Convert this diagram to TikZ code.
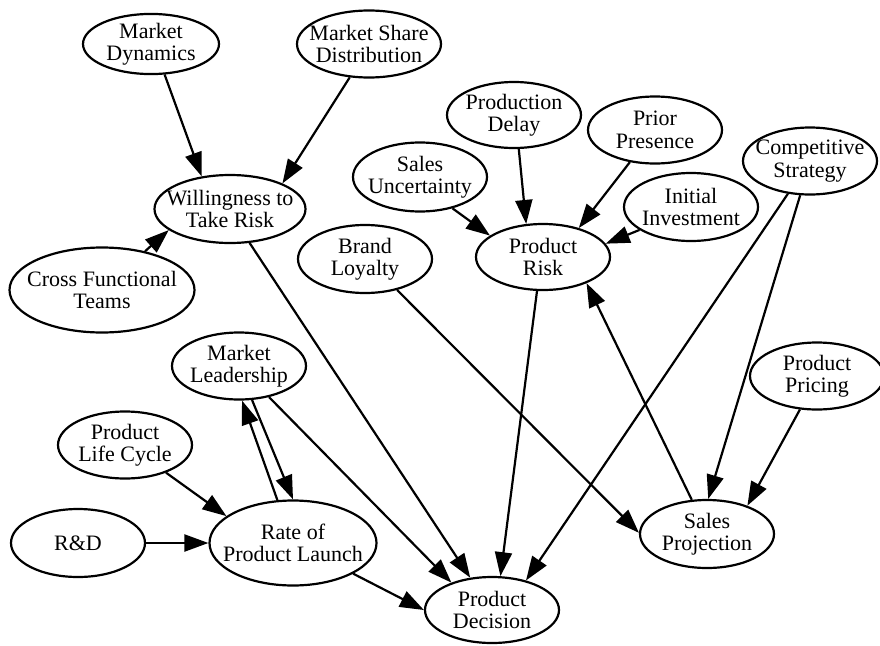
\documentclass[tikz,border=0pt]{standalone}
\usepackage{fontspec}
\setmainfont{Liberation Serif}
\usetikzlibrary{shapes.geometric,arrows.meta}
\newcommand{\lignes}[2]{\makebox[0pt]{#1}\\\makebox[0pt]{#2}}

\begin{document}
\begin{tikzpicture}[%
    x=1pt, y=-1pt,%
    line width=2.2pt,%
    font=\fontsize{22}{22.5}\selectfont,%
    var/.style={ellipse, draw, inner sep=0pt, align=center,%
      minimum width=134pt, minimum height=67pt},%
    dep/.style={-{Triangle[length=24pt,width=17pt]}}%
    ]
  \useasboundingbox (0,0) rectangle (880,645);%

  % Nodes
  \node[var, minimum width=136pt, minimum height=59pt] (MD) at (151,44) {\lignes{Market}{Dynamics}};%
  \node[var, minimum width=144pt] (MSD) at (369,44) {\lignes{Market Share}{Distribution}};%
  \node[var, minimum width=151pt, minimum height=68pt] (WTR) at (230,209) {\lignes{Willingness to}{Take Risk}};%
  \node[var, minimum width=185pt, minimum height=85pt] (CFT) at (102,290) {\lignes{Cross Functional}{Teams}};%
  \node[var, minimum height=69pt] (SU) at (420,177) {\lignes{Sales}{Uncertainty}};%
  \node[var, minimum height=68pt] (BL) at (365,259) {\lignes{Brand}{Loyalty}};%
  \node[var, minimum height=66pt] (PDL) at (514,115) {\lignes{Production}{Delay}};%
  \node[var] (PP) at (655,130) {\lignes{Prior}{Presence}};%
  \node[var] (CS) at (810,161) {\lignes{Competitive}{Strategy}};%
  \node[var, minimum height=68pt] (II) at (691,207) {\lignes{Initial}{Investment}};%
  \node[var, minimum height=66pt] (PR) at (543,257) {\lignes{Product}{Risk}};%
  \node[var] (ML) at (239,366) {\lignes{Market}{Leadership}};%
  \node[var] (PLC) at (125,445) {\lignes{Product}{Life Cycle}};%
  \node[var, minimum height=68pt] (RD) at (78,543) {R\&D};%
  \node[var, minimum width=167pt, minimum height=85pt] (RPL) at (293,543) {\lignes{Rate of}{Product Launch}};%
  \node[var] (PPR) at (817,376) {\lignes{Product}{Pricing}};%
  \node[var, minimum height=68pt] (SP) at (707,534) {\lignes{Sales}{Projection}};%
  \node[var, minimum height=66pt] (DEC) at (492,610) {\lignes{Product}{Decision}};%

  % Arrows
  \draw[dep] (MD.-66) -- (WTR.131);%
  \draw[dep] (MSD.-120) -- (WTR.26);%
  \draw[dep] (CFT.42) -- (WTR.-161);%
  \draw[dep] (WTR.-60) -- (DEC.124);%
  \draw[dep] (PDL.-82) -- (PR.117);%
  \draw[dep] (PP.-128) -- (PR.39);%
  \draw[dep] (SU.-44) -- (PR.158);%
  \draw[dep] (II.-156) -- (PR.12);%
  \draw[dep] (CS.-124) -- (DEC.41);%
  \draw[dep] (CS.-106) -- (SP.88);%
  \draw[dep] (BL.-44) -- (SP.179);%
  \draw[dep] (PR.-100) -- (DEC.76);%
  \draw[dep] (SP.114) -- (PR.-31);%
  \draw[dep] (PPR.-117) -- (SP.35);%
  \draw[dep] (ML.-69) -- (RPL.90);%
  \draw[dep] (RPL.110) -- (ML.-85);%
  \draw[dep] (ML.-46) -- (DEC.146);%
  \draw[dep] (RPL.-27) -- (DEC.180);%
  \draw[dep] (PLC.-34) -- (RPL.158);%
  \draw[dep] (RD) -- (RPL);%
\end{tikzpicture}
\end{document}
